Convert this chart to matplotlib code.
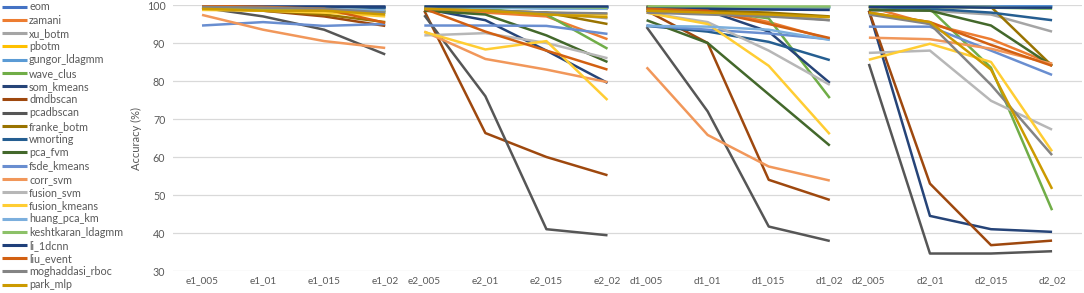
import matplotlib
matplotlib.use("Agg")
import matplotlib.pyplot as plt
import numpy as np

categories = ["e1_005", "e1_01", "e1_015", "e1_02",
              "e2_005", "e2_01", "e2_015", "e2_02",
              "d1_005", "d1_01", "d1_015", "d1_02",
              "d2_005", "d2_01", "d2_015", "d2_02"]

series_names = ["eom", "zamani", "xu_botm", "pbotm", "gungor_ldagmm", "wave_clus",
                "som_kmeans", "dmdbscan", "pcadbscan", "franke_botm", "wmorting",
                "pca_fvm", "fsde_kmeans", "corr_svm", "fusion_svm", "fusion_kmeans",
                "huang_pca_km", "keshtkaran_ldagmm", "li_1dcnn", "liu_event",
                "moghaddasi_rboc", "park_mlp"]

colors = ["#4472C4", "#ED7D31", "#A5A5A5", "#FFC000", "#5B9BD5", "#70AD47",
          "#264478", "#9E480E", "#565656", "#997300", "#255E91", "#43682B",
          "#698ED0", "#F1975A", "#B7B7B7", "#FFCD33", "#7CAFDD", "#8CC168",
          "#1F3F7A", "#D26012", "#848484", "#CC9A00"]

eom = [99.5, 99.5, 99.5, 99.5, 99.5, 99.5, 99.5, 99.5, 99.5, 99.5, 99.3, 99.3, 99.5, 99.7, 99.7, 99.7]
zamani = [99.8, 99.5, 99.0, 98.5, 98.5, 98.0, 97.0, 91.0, 99.5, 99.0, 95.5, 91.0, 99.5, 95.0, 91.0, 84.5]
xu_botm = [99.0, 99.0, 98.5, 98.0, 99.0, 98.5, 98.0, 96.5, 98.5, 98.5, 97.5, 96.0, 98.5, 98.5, 97.5, 93.0]
pbotm = [99.0, 99.0, 98.5, 98.5, 99.0, 98.5, 98.0, 97.5, 99.5, 99.5, 99.5, 99.2, 99.5, 99.5, 99.5, 99.2]
gungor_ldagmm = [99.5, 99.5, 99.5, 99.0, 99.5, 99.5, 99.5, 99.5, 99.5, 99.5, 99.5, 99.5, 99.8, 99.8, 99.8, 99.8]
wave_clus = [99.0, 99.0, 98.5, 98.0, 99.0, 99.0, 97.5, 88.5, 99.5, 98.5, 96.5, 75.5, 99.5, 99.0, 83.5, 46.0]
som_kmeans = [99.5, 99.5, 99.5, 99.5, 99.0, 96.0, 88.0, 79.5, 99.5, 98.5, 93.0, 79.5, 98.5, 44.5, 41.0, 40.3]
dmdbscan = [99.5, 98.5, 97.0, 94.5, 98.5, 66.3, 60.0, 55.2, 98.5, 90.0, 54.0, 48.7, 98.5, 53.0, 36.8, 38.0]
pcadbscan = [99.3, 97.0, 93.5, 87.0, 97.3, 76.0, 41.0, 39.4, 94.2, 72.0, 41.7, 37.9, 84.5, 34.6, 34.6, 35.2]
franke_botm = [99.0, 98.5, 97.5, 95.5, 99.0, 98.5, 98.0, 95.0, 99.0, 98.5, 98.0, 97.0, 99.5, 99.5, 99.5, 84.0]
wmorting = [99.5, 99.5, 99.5, 99.5, 99.5, 99.5, 99.3, 99.0, 94.5, 93.0, 90.3, 85.5, 99.5, 99.0, 98.0, 96.0]
pca_fvm = [99.0, 99.0, 99.0, 98.5, 98.5, 97.5, 92.0, 85.0, 96.0, 90.0, 76.5, 63.0, 98.7, 98.5, 94.6, 84.0]
fsde_kmeans = [94.6, 95.5, 94.5, 95.0, 94.6, 94.6, 94.5, 92.4, 94.6, 93.5, 92.5, 91.0, 94.3, 94.3, 88.0, 81.6]
corr_svm = [97.4, 93.5, 90.5, 88.7, 93.0, 85.8, 83.0, 79.7, 83.6, 65.8, 57.5, 53.8, 91.4, 91.0, 88.5, 84.5]
fusion_svm = [99.0, 99.0, 99.0, 98.5, 92.0, 92.6, 90.0, 86.0, 98.0, 95.5, 88.0, 79.0, 87.4, 88.0, 74.8, 67.2]
fusion_kmeans = [98.7, 98.5, 98.0, 97.0, 92.9, 88.3, 90.5, 75.0, 98.0, 95.0, 84.0, 66.0, 85.6, 89.8, 85.0, 61.5]
huang_pca_km = [99.3, 99.3, 99.0, 98.5, 99.5, 99.3, 99.0, 99.0, 94.5, 94.3, 93.5, 90.8, 99.5, 99.5, 99.5, 99.0]
keshtkaran_ldagmm = [99.0, 99.0, 98.5, 98.0, 99.5, 99.5, 99.5, 99.3, 99.7, 99.7, 99.7, 99.7, 99.8, 99.5, 99.3, 99.0]
li_1dcnn = [99.7, 99.7, 99.7, 99.7, 99.7, 99.7, 99.7, 99.7, 99.0, 99.0, 98.8, 98.7, 99.5, 99.5, 99.3, 99.3]
liu_event = [99.8, 99.5, 99.0, 95.3, 99.0, 93.0, 88.0, 83.0, 99.0, 98.5, 95.0, 91.3, 98.0, 95.5, 89.5, 84.0]
moghaddasi_rboc = [99.5, 99.3, 99.0, 98.0, 99.0, 98.5, 98.0, 97.8, 98.0, 97.5, 97.0, 96.0, 97.5, 95.0, 79.0, 60.5]
park_mlp = [99.0, 98.5, 98.5, 97.5, 99.0, 98.5, 97.5, 96.8, 98.5, 98.0, 97.5, 96.8, 98.0, 95.5, 83.0, 51.6]

series_values = [eom, zamani, xu_botm, pbotm, gungor_ldagmm, wave_clus, som_kmeans,
                 dmdbscan, pcadbscan, franke_botm, wmorting, pca_fvm, fsde_kmeans,
                 corr_svm, fusion_svm, fusion_kmeans, huang_pca_km, keshtkaran_ldagmm,
                 li_1dcnn, liu_event, moghaddasi_rboc, park_mlp]

y_ticks = [30, 40, 50, 60, 70, 80, 90, 100]

FONT = ['Lato', 'DejaVu Sans']
plt.rcParams['font.family'] = FONT
text_color = "#595959"

W, H = 1084, 293
fig = plt.figure(figsize=(W / 100, H / 100), dpi=100)
renderer = fig.canvas.get_renderer()


def size_for_width(s, target_px, base=10.0):
    t = fig.text(0, 0, s, fontsize=base)
    w = t.get_window_extent(renderer).width
    t.remove()
    return base * target_px / w


fs_leg = size_for_width("keshtkaran_ldagmm", 94)
fs_xt = size_for_width("e2_005", 33)
fs_yt = size_for_width("100", 18.5)
fs_yl = size_for_width("Accuracy (%)", 63)

ax = fig.add_axes([173 / W, 1 - 271 / H, (1082 - 173) / W, (271 - 5) / H])

group_size = 4
gap = 0.64
n = len(categories)
xpos = np.array([(i // group_size) * (group_size - 1 + gap) + (i % group_size) for i in range(n)])

for name, vals, col in zip(series_names, series_values, colors):
    vals = np.array(vals, dtype=float)
    first = True
    for g in range(n // group_size):
        sl = slice(g * group_size, (g + 1) * group_size)
        ax.plot(xpos[sl], vals[sl], color=col, lw=1.8, solid_capstyle='butt',
                label=name if first else None)
        first = False

ax.set_ylim(30, 100)
ax.set_yticks(y_ticks)
ax.set_xlim(xpos[0] - 0.475, xpos[-1] + 0.49)
ax.set_xticks(xpos)
ax.set_xticklabels(categories)
ax.grid(axis='y', color='#D9D9D9', lw=0.9)
ax.set_axisbelow(True)
for s in ax.spines.values():
    s.set_visible(False)
ax.tick_params(axis='both', length=0, colors=text_color)
ax.tick_params(axis='x', pad=4.0, labelsize=fs_xt)
ax.tick_params(axis='y', pad=5.5, labelsize=fs_yt)
ax.set_ylabel("Accuracy (%)", color=text_color, fontsize=fs_yl)
ax.yaxis.set_label_coords((136 - 173) / (1082 - 173), 0.5)
ax.yaxis.label.set_verticalalignment('center')

handles, labels = ax.get_legend_handles_labels()
fs_px = fs_leg * 100 / 72.0


def make_legend(ls, dy):
    lg = fig.legend(handles, labels, loc='upper left',
                    bbox_to_anchor=(0.0, 1.0 + dy / H),
                    frameon=False, fontsize=fs_leg, handlelength=25 / fs_px,
                    handletextpad=2.5 / fs_px, labelspacing=ls,
                    borderaxespad=0.0, borderpad=0.15)
    for t in lg.get_texts():
        t.set_color(text_color)
    for l in lg.get_lines():
        l.set_linewidth(2.2)
    return lg


ls = 0.1
dy = 0.0
leg = make_legend(ls, dy)
for _ in range(3):
    fig.canvas.draw()
    texts = leg.get_texts()
    b0 = texts[0].get_window_extent(renderer)
    b1 = texts[-1].get_window_extent(renderer)
    c0 = H - (b0.y0 + b0.y1) / 2
    c1 = H - (b1.y0 + b1.y1) / 2
    pitch = (c1 - c0) / (len(texts) - 1)
    ls += (278 / 21 - pitch) / fs_px
    dy += (c0 - 7)
    leg.remove()
    leg = make_legend(ls, dy)

fig.savefig("out.png", dpi=100)
